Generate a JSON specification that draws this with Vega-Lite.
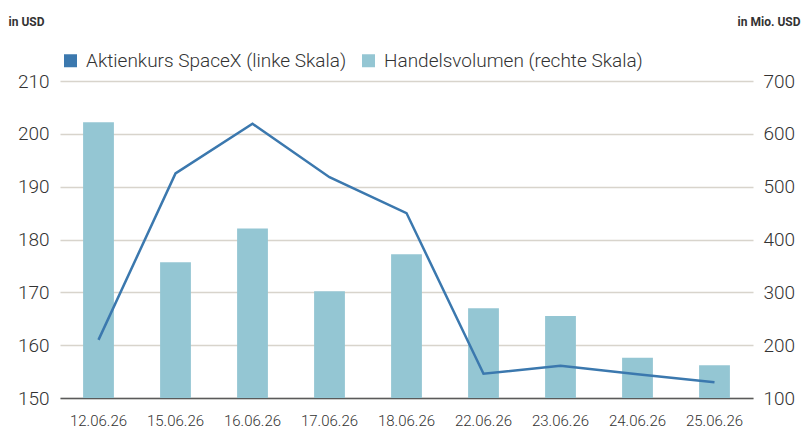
{
  "$schema": "https://vega.github.io/schema/vega-lite/v6.json",
  "width": 693,
  "height": 317,
  "autosize": {"type": "none"},
  "padding": {"left": 60, "top": 81, "right": 54, "bottom": 37},
  "background": "white",
  "config": {
    "view": {"stroke": null},
    "font": "Roboto",
    "axis": {"labelColor": "#333333", "titleColor": "#333333", "labelFont": "Roboto", "labelFontWeight": 300, "titleFont": "Roboto"},
    "legend": {"labelFont": "Roboto", "labelFontWeight": 300}
  },
  "data": {
    "values": [
      {"datum": "12.06.26", "kurs": 161.0, "volumen": 622},
      {"datum": "15.06.26", "kurs": 192.5, "volumen": 357},
      {"datum": "16.06.26", "kurs": 201.9, "volumen": 421},
      {"datum": "17.06.26", "kurs": 191.8, "volumen": 302},
      {"datum": "18.06.26", "kurs": 185.0, "volumen": 372},
      {"datum": "22.06.26", "kurs": 154.6, "volumen": 270},
      {"datum": "23.06.26", "kurs": 156.1, "volumen": 255},
      {"datum": "24.06.26", "kurs": 154.5, "volumen": 176},
      {"datum": "25.06.26", "kurs": 153.0, "volumen": 162}
    ]
  },
  "encoding": {
    "x": {
      "field": "datum",
      "type": "nominal",
      "sort": null,
      "scale": {"paddingInner": 0.6, "paddingOuter": 0.3},
      "axis": {
        "title": null,
        "labelAngle": 0,
        "labelFontSize": 15,
        "labelPadding": 15,
        "ticks": false,
        "domain": true,
        "domainColor": "#5a5a5a",
        "domainWidth": 1.5,
        "grid": false
      }
    }
  },
  "layer": [
    {
      "mark": {"type": "bar"},
      "encoding": {
        "y": {
          "field": "volumen",
          "type": "quantitative",
          "scale": {"domain": [100, 700], "zero": false, "nice": false},
          "axis": {
            "orient": "right",
            "values": [100, 200, 300, 400, 500, 600, 700],
            "title": "in Mio. USD",
            "titleAngle": 0,
            "titleAlign": "right",
            "titleBaseline": "alphabetic",
            "titleX": 47,
            "titleY": -56,
            "titleFontSize": 12,
            "titleFontWeight": "bold",
            "labelFontSize": 19,
            "labelPadding": 10,
            "ticks": false,
            "domain": false,
            "grid": false
          }
        },
        "y2": {"datum": 100},
        "color": {
          "datum": "Handelsvolumen (rechte Skala)",
          "scale": {
            "domain": ["Aktienkurs SpaceX (linke Skala)", "Handelsvolumen (rechte Skala)"],
            "range": ["#3b78ae", "#94c6d3"]
          },
          "legend": {
            "orient": "none",
            "direction": "horizontal",
            "legendX": 1,
            "legendY": -30,
            "padding": 0,
            "title": null,
            "symbolType": "square",
            "symbolSize": 169,
            "symbolStrokeWidth": 0,
            "labelFontSize": 19,
            "labelColor": "#333333",
            "labelLimit": 400,
            "columnPadding": 12,
            "labelOffset": 6
          }
        }
      }
    },
    {
      "mark": {"type": "line", "color": "#3b78ae", "strokeWidth": 2.5},
      "encoding": {
        "y": {
          "field": "kurs",
          "type": "quantitative",
          "scale": {"domain": [150, 210], "zero": false, "nice": false},
          "axis": {
            "orient": "left",
            "values": [150, 160, 170, 180, 190, 200, 210],
            "title": "in USD",
            "titleAngle": 0,
            "titleAlign": "left",
            "titleBaseline": "alphabetic",
            "titleX": -52,
            "titleY": -56,
            "titleFontSize": 12,
            "titleFontWeight": "bold",
            "labelFontSize": 19,
            "labelPadding": 11,
            "ticks": false,
            "domain": false,
            "grid": true,
            "gridColor": "#d8d4cc",
            "gridWidth": 1.5
          }
        }
      }
    }
  ],
  "resolve": {"scale": {"y": "independent"}}
}
